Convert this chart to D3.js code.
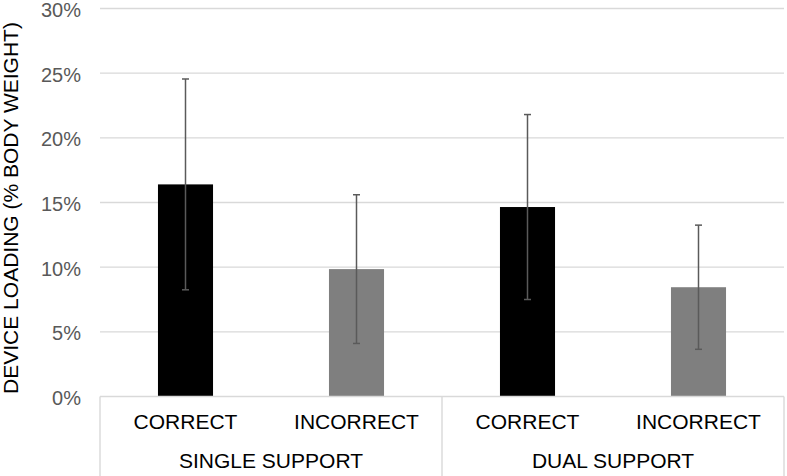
<!DOCTYPE html>
<html>
<head>
<meta charset="utf-8">
<script src="https://cdn.jsdelivr.net/npm/d3@7"></script>
<style>
  html, body { margin: 0; padding: 0; background: #fff; }
  svg { display: block; font-family: "Liberation Sans", Arial, sans-serif; }
</style>
</head>
<body>
<svg id="chart" width="787" height="476"></svg>
<script>
// ---- data ----
const categories = ["CORRECT", "INCORRECT", "CORRECT", "INCORRECT"];
const groups = ["SINGLE SUPPORT", "DUAL SUPPORT"];
const means = [0.164, 0.0985, 0.1465, 0.0845];
const errors = [0.0815, 0.0575, 0.0715, 0.048];
const yTicks = [0, 0.05, 0.10, 0.15, 0.20, 0.25, 0.30];
const barColors = ["#000000", "#7f7f7f", "#000000", "#7f7f7f"];
const yTitle = "DEVICE LOADING (% BODY WEIGHT)";

// ---- layout ----
const svg = d3.select("#chart");
const plotLeft = 100, plotRight = 784, plotTop = 8.5, plotBottom = 396.5;

const x = d3.scaleBand()
  .domain(d3.range(categories.length))
  .range([plotLeft, plotRight])
  .paddingInner(0.678)
  .paddingOuter(0.339);

const y = d3.scaleLinear().domain([0, 0.30]).range([plotBottom, plotTop]);

// gridlines
svg.append("g")
  .selectAll("line")
  .data(yTicks.filter(d => d > 0))
  .join("line")
  .attr("x1", plotLeft).attr("x2", plotRight)
  .attr("y1", d => y(d)).attr("y2", d => y(d))
  .attr("stroke", "#d9d9d9").attr("stroke-width", 1.4);

// y axis labels
const yAxis = svg.append("g")
  .attr("transform", `translate(${plotLeft},0)`)
  .call(d3.axisLeft(y).tickValues(yTicks).tickFormat(d3.format(".0%")).tickSize(0).tickPadding(19));
yAxis.select(".domain").remove();
yAxis.selectAll("text")
  .attr("fill", "#595959")
  .attr("dy", "0.4em")
  .style("font-size", "20px")
  .style("font-family", '"Liberation Sans", Arial, sans-serif');

// bars
svg.append("g")
  .selectAll("rect")
  .data(means)
  .join("rect")
  .attr("x", (d, i) => x(i))
  .attr("width", x.bandwidth())
  .attr("y", d => y(d))
  .attr("height", d => y(0) - y(d))
  .attr("fill", (d, i) => barColors[i]);

// error bars
const eb = svg.append("g").attr("stroke", "#5a5a5a").attr("stroke-width", 1.5);
means.forEach((m, i) => {
  const cx = x(i) + x.bandwidth() / 2;
  const hi = y(m + errors[i]), lo = y(m - errors[i]);
  eb.append("line").attr("x1", cx).attr("x2", cx).attr("y1", hi).attr("y2", lo);
  eb.append("line").attr("x1", cx - 3.5).attr("x2", cx + 3.5).attr("y1", hi).attr("y2", hi);
  eb.append("line").attr("x1", cx - 3.5).attr("x2", cx + 3.5).attr("y1", lo).attr("y2", lo);
});

// category axis box
const axisColor = "#d9d9d9";
svg.append("line")
  .attr("x1", plotLeft).attr("x2", plotRight)
  .attr("y1", y(0)).attr("y2", y(0))
  .attr("stroke", axisColor).attr("stroke-width", 1.4);

const groupEdges = [plotLeft, (plotLeft + plotRight) / 2, plotRight];
svg.append("g")
  .selectAll("line")
  .data(groupEdges)
  .join("line")
  .attr("x1", d => d).attr("x2", d => d)
  .attr("y1", y(0)).attr("y2", 476)
  .attr("stroke", axisColor).attr("stroke-width", 1.4);

// category labels
svg.append("g")
  .selectAll("text")
  .data(categories)
  .join("text")
  .attr("x", (d, i) => x(i) + x.bandwidth() / 2)
  .attr("y", 429)
  .attr("text-anchor", "middle")
  .attr("fill", "#000")
  .style("font-size", "21px")
  .text(d => d);

// group labels
svg.append("g")
  .selectAll("text")
  .data(groups)
  .join("text")
  .attr("x", (d, i) => (groupEdges[i] + groupEdges[i + 1]) / 2)
  .attr("y", 468)
  .attr("text-anchor", "middle")
  .attr("fill", "#000")
  .style("font-size", "21px")
  .text(d => d);

// y title
svg.append("text")
  .attr("transform", "translate(18,208) rotate(-90)")
  .attr("text-anchor", "middle")
  .attr("fill", "#000")
  .style("font-size", "21px")
  .text(yTitle);
</script>
</body>
</html>
